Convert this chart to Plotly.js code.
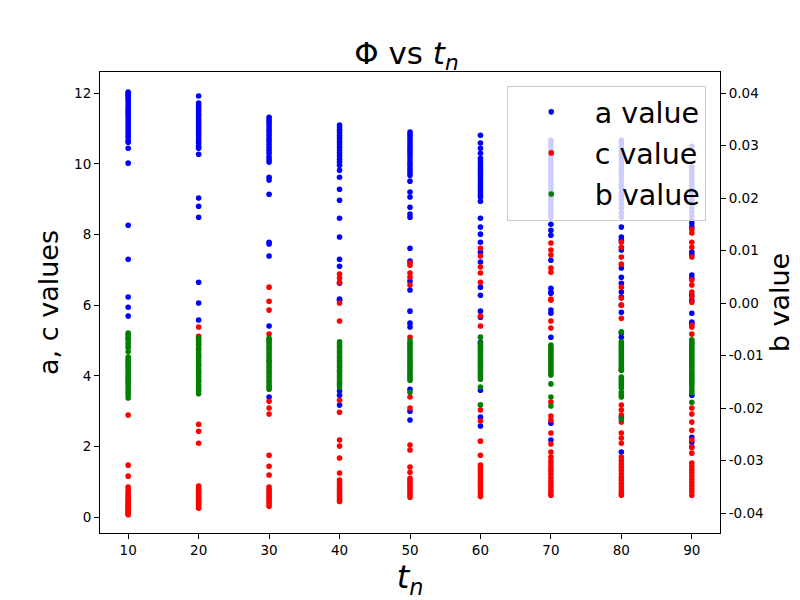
<!DOCTYPE html>
<html>
<head>
<meta charset="utf-8">
<script src="https://cdn.plot.ly/plotly-3.0.1.min.js"></script>
<style>
  html, body { margin: 0; padding: 0; background: #fff; }
  #myDiv { width: 800px; height: 600px; }
</style>
</head>
<body>
<div id="myDiv"></div>
<script>
// t_n groups, one column of points per value
const tValues = [10, 20, 30, 40, 50, 60, 70, 80, 90];

// a values (left axis), one list per t_n
const aValues = [
  [12.03, 11.98, 11.94, 11.90, 11.85, 11.80, 11.72, 11.65, 11.58, 11.52, 11.45, 11.40, 11.33, 11.27, 11.20, 11.13, 11.05, 10.98, 10.90, 10.82, 10.75, 10.66, 10.61, 10.44, 10.02, 8.26, 7.30, 6.23, 5.94, 5.69],
  [11.92, 11.72, 11.65, 11.58, 11.50, 11.42, 11.35, 11.27, 11.20, 11.12, 11.05, 10.98, 10.90, 10.82, 10.74, 10.66, 10.58, 10.50, 10.44, 10.27, 9.03, 8.80, 8.49, 6.65, 6.06, 5.58],
  [11.32, 11.25, 11.18, 11.10, 11.02, 10.95, 10.87, 10.80, 10.72, 10.64, 10.55, 10.46, 10.38, 10.30, 10.20, 10.12, 10.05, 9.62, 9.54, 9.14, 7.78, 7.73, 7.39, 5.41, 3.40],
  [11.10, 11.02, 10.95, 10.88, 10.80, 10.72, 10.64, 10.56, 10.48, 10.40, 10.31, 10.22, 10.13, 10.05, 9.96, 9.82, 9.62, 9.28, 8.97, 8.46, 7.93, 7.30, 7.10, 6.62, 6.17, 6.14, 3.57, 3.45, 3.17],
  [10.90, 10.83, 10.76, 10.68, 10.60, 10.52, 10.44, 10.36, 10.28, 10.20, 10.11, 10.02, 9.94, 9.85, 9.76, 9.68, 9.51, 9.20, 9.06, 8.77, 8.58, 8.49, 7.61, 7.25, 6.68, 6.43, 5.83, 5.49, 5.38, 3.62, 3.00, 2.75],
  [10.81, 10.59, 10.44, 10.30, 10.16, 10.08, 10.00, 9.92, 9.84, 9.76, 9.68, 9.60, 9.52, 9.44, 9.36, 9.28, 9.20, 9.12, 9.06, 8.94, 8.46, 8.21, 8.01, 7.78, 7.50, 7.22, 6.51, 6.28, 5.83, 5.66, 4.95, 3.59, 2.83, 2.58],
  [10.67, 10.59, 10.50, 10.40, 10.30, 10.20, 10.10, 10.00, 9.90, 9.80, 9.70, 9.60, 9.50, 9.40, 9.30, 9.20, 9.10, 9.00, 8.90, 8.80, 8.70, 8.60, 8.49, 8.29, 8.12, 7.98, 7.27, 6.48, 6.37, 6.34, 5.86, 5.77, 5.09, 2.66, 2.18],
  [10.67, 10.58, 10.48, 10.38, 10.27, 10.17, 10.06, 9.95, 9.85, 9.74, 9.63, 9.52, 9.41, 9.30, 9.19, 9.08, 8.97, 8.86, 8.75, 8.62, 8.49, 8.21, 7.93, 7.84, 7.56, 7.05, 6.79, 6.62, 6.37, 6.23, 6.00, 5.80, 5.21, 5.09, 2.83, 1.84],
  [10.50, 9.91, 9.82, 9.72, 9.62, 9.51, 9.41, 9.30, 9.20, 9.09, 8.98, 8.87, 8.75, 8.63, 8.52, 8.41, 8.32, 8.21, 7.50, 7.42, 6.85, 6.76, 6.28, 6.14, 5.77, 5.52, 5.49, 3.45, 2.26, 2.12, 1.98]
];

// c values (left axis)
const cValues = [
  [2.89, 1.47, 1.16, 0.85, 0.78, 0.70, 0.64, 0.58, 0.53, 0.49, 0.45, 0.41, 0.37, 0.33, 0.30, 0.27, 0.24, 0.21, 0.18, 0.15, 0.12, 0.09, 0.07],
  [5.38, 5.12, 4.87, 2.63, 2.43, 2.09, 0.88, 0.82, 0.76, 0.71, 0.66, 0.61, 0.56, 0.51, 0.46, 0.41, 0.36, 0.31, 0.25],
  [6.51, 6.11, 5.86, 5.18, 3.28, 3.09, 2.92, 1.75, 1.44, 1.19, 0.85, 0.78, 0.72, 0.66, 0.60, 0.55, 0.49, 0.43, 0.37, 0.31],
  [6.88, 6.77, 6.65, 6.06, 5.55, 3.31, 2.97, 2.18, 2.01, 1.67, 1.25, 1.05, 0.98, 0.92, 0.86, 0.80, 0.74, 0.68, 0.62, 0.56, 0.50, 0.44],
  [7.19, 7.13, 6.91, 6.79, 6.57, 5.09, 3.40, 3.09, 2.04, 1.90, 1.42, 1.27, 1.10, 1.03, 0.96, 0.90, 0.84, 0.77, 0.70, 0.63, 0.56],
  [7.61, 7.39, 7.08, 6.91, 6.65, 5.69, 5.41, 3.03, 2.72, 2.15, 1.75, 1.47, 1.38, 1.30, 1.22, 1.14, 1.06, 0.98, 0.90, 0.82, 0.74, 0.66, 0.58],
  [7.76, 7.56, 7.42, 7.05, 6.93, 6.17, 6.14, 5.55, 5.35, 3.26, 2.86, 2.75, 2.38, 2.07, 1.84, 1.70, 1.59, 1.50, 1.40, 1.31, 1.22, 1.12, 1.03, 0.94, 0.85, 0.76, 0.68, 0.62],
  [7.78, 7.64, 7.36, 7.16, 6.51, 6.20, 6.00, 5.63, 4.16, 3.17, 3.03, 2.89, 2.69, 2.38, 2.24, 2.09, 1.70, 1.60, 1.50, 1.41, 1.32, 1.22, 1.13, 1.04, 0.95, 0.86, 0.77, 0.68, 0.62],
  [8.15, 8.04, 7.78, 7.64, 7.36, 6.71, 6.57, 6.37, 6.23, 6.08, 5.43, 5.38, 5.18, 3.09, 2.92, 2.69, 2.46, 2.18, 1.98, 1.81, 1.53, 1.44, 1.35, 1.26, 1.17, 1.08, 0.99, 0.90, 0.81, 0.72, 0.62]
];

// b values (right axis)
const bValues = [
  [-0.0057, -0.0060, -0.0064, -0.0068, -0.0070, -0.0076, -0.0080, -0.0085, -0.0093, -0.0103, -0.0107, -0.0111, -0.0115, -0.0119, -0.0123, -0.0127, -0.0131, -0.0135, -0.0139, -0.0143, -0.0147, -0.0151, -0.0155, -0.0160, -0.0165, -0.0170, -0.0175, -0.0181],
  [-0.0067, -0.0071, -0.0076, -0.0080, -0.0086, -0.0090, -0.0096, -0.0101, -0.0105, -0.0111, -0.0116, -0.0120, -0.0126, -0.0131, -0.0135, -0.0141, -0.0146, -0.0150, -0.0156, -0.0161, -0.0166, -0.0173],
  [-0.0067, -0.0071, -0.0075, -0.0080, -0.0085, -0.0089, -0.0094, -0.0099, -0.0104, -0.0109, -0.0113, -0.0118, -0.0123, -0.0128, -0.0133, -0.0137, -0.0142, -0.0147, -0.0152, -0.0157, -0.0160, -0.0164],
  [-0.0074, -0.0078, -0.0083, -0.0087, -0.0092, -0.0096, -0.0101, -0.0105, -0.0110, -0.0114, -0.0119, -0.0123, -0.0128, -0.0132, -0.0137, -0.0141, -0.0146, -0.0151, -0.0155, -0.0160],
  [-0.0072, -0.0076, -0.0080, -0.0085, -0.0089, -0.0093, -0.0097, -0.0101, -0.0106, -0.0110, -0.0114, -0.0118, -0.0122, -0.0127, -0.0131, -0.0135, -0.0139, -0.0143, -0.0147, -0.0170],
  [-0.0065, -0.0076, -0.0080, -0.0084, -0.0088, -0.0092, -0.0096, -0.0101, -0.0105, -0.0109, -0.0113, -0.0117, -0.0121, -0.0125, -0.0129, -0.0133, -0.0137, -0.0141, -0.0145, -0.0160, -0.0194],
  [-0.0080, -0.0084, -0.0088, -0.0092, -0.0096, -0.0100, -0.0104, -0.0108, -0.0112, -0.0116, -0.0120, -0.0125, -0.0129, -0.0133, -0.0137, -0.0154, -0.0179, -0.0196],
  [-0.0055, -0.0074, -0.0078, -0.0082, -0.0086, -0.0090, -0.0094, -0.0099, -0.0103, -0.0107, -0.0111, -0.0116, -0.0120, -0.0124, -0.0128, -0.0141, -0.0145, -0.0150, -0.0154, -0.0158, -0.0162, -0.0170, -0.0175, -0.0179, -0.0221],
  [-0.0070, -0.0074, -0.0078, -0.0082, -0.0086, -0.0090, -0.0094, -0.0098, -0.0102, -0.0106, -0.0110, -0.0114, -0.0118, -0.0122, -0.0127, -0.0131, -0.0135, -0.0139, -0.0143, -0.0147, -0.0151, -0.0155, -0.0160, -0.0166, -0.0171, -0.0189]
];

const leftTicks = [0, 2, 4, 6, 8, 10, 12];
const rightTicks = [-0.04, -0.03, -0.02, -0.01, 0.00, 0.01, 0.02, 0.03, 0.04];

function flatten(groups){
    let xs = [];
    let ys = [];
    for (let i = 0; i < groups.length; i++){
        for (let j = 0; j < groups[i].length; j++){
            xs.push(tValues[i]);
            ys.push(groups[i][j]);
        }
    }
    return [xs, ys];
}

const fontFam = '"DejaVu Sans", sans-serif';
const aPts = flatten(aValues);
const cPts = flatten(cValues);
const bPts = flatten(bValues);

function dots(pts, name, color, yaxis){
    return {
        x: pts[0], y: pts[1],
        type: 'scatter', mode: 'markers',
        name: name, yaxis: yaxis, legendgroup: name,
        marker: {color: color, size: 5.6, line: {width: 0}},
        hoverinfo: 'none'
    };
}

const data = [
    dots(aPts, 'a value', '#0000ff', 'y'),
    dots(cPts, 'c value', '#ff0000', 'y'),
    dots(bPts, 'b value', '#008000', 'y2')
];

const axisCommon = {
    showgrid: false, zeroline: false,
    showline: true, linecolor: '#000', linewidth: 1,
    ticks: 'outside', ticklen: 5, tickwidth: 1, tickcolor: '#000',
    tickfont: {family: fontFam, size: 13.5, color: '#000'}
};

const layout = {
    width: 800, height: 600,
    paper_bgcolor: '#fff', plot_bgcolor: '#fff',
    margin: {l: 100, r: 80, t: 72, b: 67, pad: 0},
    font: {family: fontFam, color: '#000'},
    title: {
        text: 'Φ vs <i>t</i><sub><i>n</i></sub>',
        font: {family: fontFam, size: 31, color: '#000'},
        x: 0.508, xanchor: 'center',
        y: 0.912, yanchor: 'middle'
    },
    xaxis: Object.assign({}, axisCommon, {
        range: [6, 94], autorange: false,
        tickvals: tValues, ticktext: tValues.map(String),
        mirror: true,
        title: {text: '<i>t</i><sub><i>n</i></sub>', font: {family: fontFam, size: 32}, standoff: 6}
    }),
    yaxis: Object.assign({}, axisCommon, {
        range: [-0.45, 12.6], autorange: false,
        tickvals: leftTicks, ticktext: leftTicks.map(String),
        title: {text: 'a, c values', font: {family: fontFam, size: 27}, standoff: 7}
    }),
    yaxis2: Object.assign({}, axisCommon, {
        overlaying: 'y', side: 'right',
        range: [-0.0438, 0.044], autorange: false,
        tickvals: rightTicks, ticktext: rightTicks.map(v => v.toFixed(2)),
        title: {text: 'b value', font: {family: fontFam, size: 27}, standoff: 6}
    }),
    showlegend: true,
    legend: {
        x: 0.977, xanchor: 'right',
        y: 0.970, yanchor: 'top',
        bgcolor: 'rgba(255,255,255,0.8)',
        bordercolor: '#cccccc', borderwidth: 1,
        font: {family: fontFam, size: 28.5, color: '#000'},
        itemwidth: 77,
        traceorder: 'grouped',
        tracegroupgap: 1
    }
};

const config = {displayModeBar: false, staticPlot: true};
Plotly.newPlot('myDiv', data, layout, config);
</script>
</body>
</html>
